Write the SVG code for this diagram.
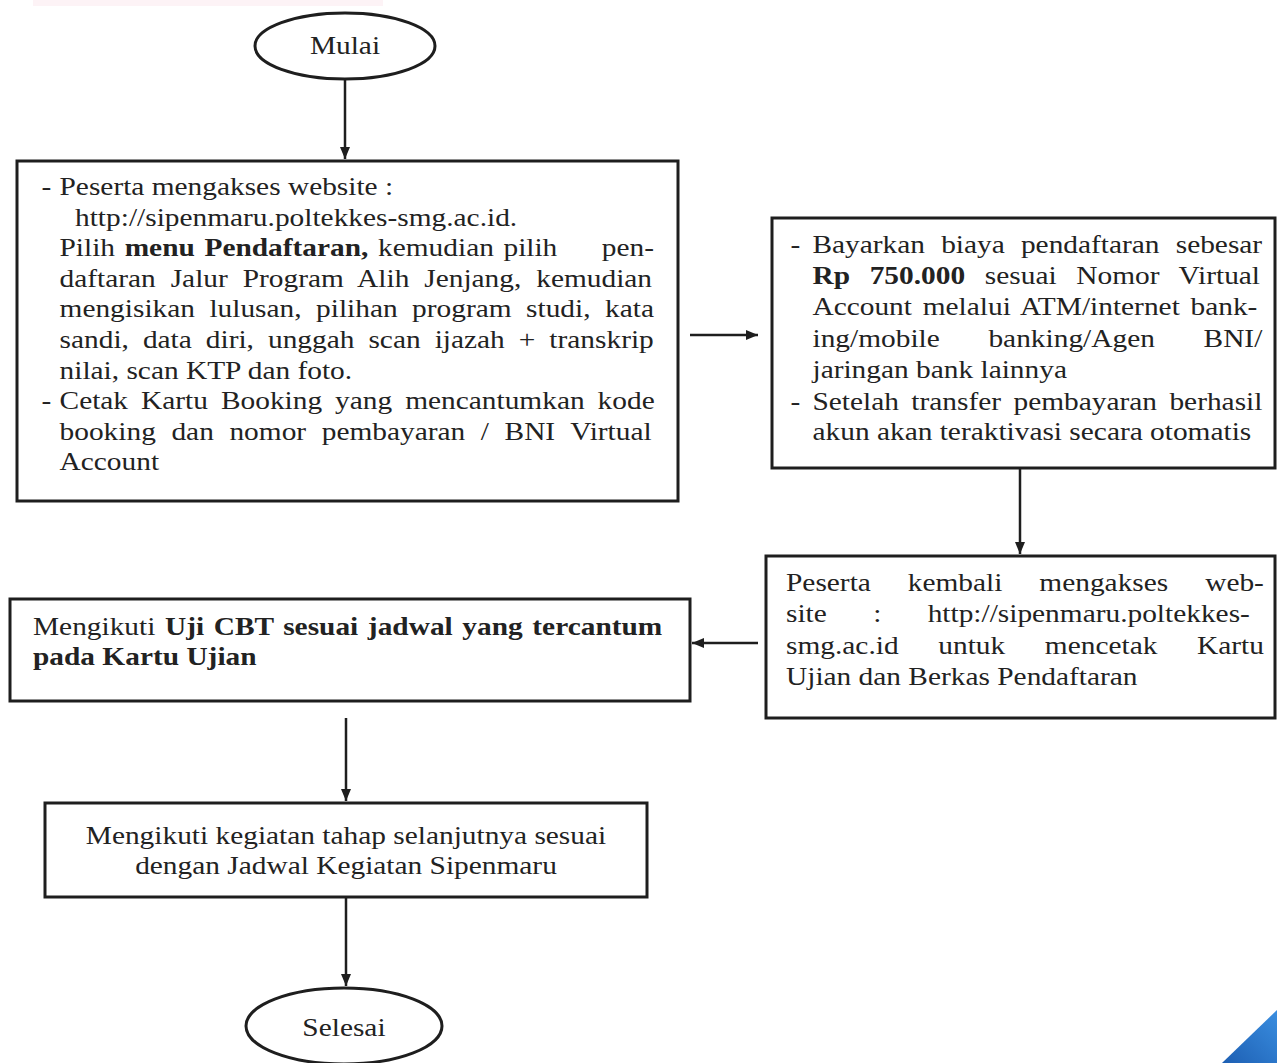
<svg xmlns="http://www.w3.org/2000/svg" width="1277" height="1063" viewBox="0 0 1277 1063">
<style>
.t{font-family:"Liberation Serif","Times New Roman",serif;font-size:26px;fill:#222222}
.b{font-weight:bold}
.box{fill:#ffffff;stroke:#1e1e1e;stroke-width:3}
.conn{stroke:#1e1e1e;stroke-width:2.5;fill:none}
</style>
<defs>
<marker id="ah" markerUnits="userSpaceOnUse" markerWidth="13" markerHeight="11" refX="12" refY="5" orient="auto">
<path d="M0,0 L12,5 L0,10 Z" fill="#1e1e1e"/>
</marker>
<linearGradient id="blue" x1="0" y1="1" x2="1" y2="0">
<stop offset="0" stop-color="#1d5fb3"/>
<stop offset="1" stop-color="#3a8ee0"/>
</linearGradient>
</defs>
<rect width="1277" height="1063" fill="#ffffff"/>
<rect x="33" y="0" width="350" height="6" fill="#fdf3f6"/>
<polygon points="1222,1063 1277,1010 1277,1063" fill="url(#blue)"/>

<g id="connectors">
<line class="conn" x1="345" y1="79" x2="345" y2="159" marker-end="url(#ah)"/>
<line class="conn" x1="690" y1="335" x2="758" y2="335" marker-end="url(#ah)"/>
<line class="conn" x1="1020" y1="469" x2="1020" y2="554" marker-end="url(#ah)"/>
<line class="conn" x1="758" y1="643" x2="692" y2="643" marker-end="url(#ah)"/>
<line class="conn" x1="346" y1="718" x2="346" y2="801" marker-end="url(#ah)"/>
<line class="conn" x1="346" y1="898" x2="346" y2="986" marker-end="url(#ah)"/>
</g>

<g id="mulai">
<ellipse cx="345" cy="46" rx="90" ry="33" class="box"/>
<g transform="scale(1.13,1)"><text class="t" x="305.3" y="54" text-anchor="middle">Mulai</text></g>
</g>

<g id="daftar">
<rect x="17" y="161" width="661" height="340" class="box"/>
<g transform="scale(1.13,1)">
<text class="t" x="36.7" y="195">-</text>
<text class="t" x="52.7" y="195">Peserta mengakses website :</text>
<text class="t" x="66.4" y="225.6">http://sipenmaru.poltekkes-smg.ac.id.</text>
<text class="t" x="52.7" y="256.2" word-spacing="2">Pilih <tspan class="b">menu Pendaftaran,</tspan> kemudian pilih</text>
<text class="t" x="578.8" y="256.2" text-anchor="end">pen-</text>
<text class="t" x="52.7" y="286.8" word-spacing="6.7">daftaran Jalur Program Alih Jenjang, kemudian</text>
<text class="t" x="52.7" y="317.4" word-spacing="6.3">mengisikan lulusan, pilihan program studi, kata</text>
<text class="t" x="52.7" y="348" word-spacing="5.9">sandi, data diri, unggah scan ijazah + transkrip</text>
<text class="t" x="52.7" y="378.6">nilai, scan KTP dan foto.</text>
<text class="t" x="36.7" y="409.2">-</text>
<text class="t" x="52.7" y="409.2" word-spacing="5">Cetak Kartu Booking yang mencantumkan kode</text>
<text class="t" x="52.7" y="439.8" word-spacing="7.3">booking dan nomor pembayaran / BNI Virtual</text>
<text class="t" x="52.7" y="470.4">Account</text>
</g>
</g>

<g id="bayar">
<rect x="772" y="218" width="503" height="250" class="box"/>
<g transform="scale(1.13,1)">
<text class="t" x="699.5" y="253">-</text>
<text class="t" x="719" y="253" word-spacing="7.8">Bayarkan biaya pendaftaran sebesar</text>
<text class="t" x="719" y="284" word-spacing="10.9"><tspan class="b">Rp 750.000</tspan> sesuai Nomor Virtual</text>
<text class="t" x="719" y="315.5" word-spacing="3">Account melalui ATM/internet bank-</text>
<text class="t" x="719" y="347" word-spacing="36.6">ing/mobile banking/Agen BNI/</text>
<text class="t" x="719" y="378">jaringan bank lainnya</text>
<text class="t" x="699.5" y="410">-</text>
<text class="t" x="719" y="410" word-spacing="4.5">Setelah transfer pembayaran berhasil</text>
<text class="t" x="719" y="440">akun akan teraktivasi secara otomatis</text>
</g>
</g>

<g id="cetak">
<rect x="766" y="556" width="509" height="162" class="box"/>
<g transform="scale(1.13,1)">
<text class="t" x="695.6" y="591" word-spacing="26.2">Peserta kembali mengakses web-</text>
<text class="t" x="695.6" y="622.5" word-spacing="34.5">site : http://sipenmaru.poltekkes-</text>
<text class="t" x="695.6" y="654" word-spacing="28.6">smg.ac.id untuk mencetak Kartu</text>
<text class="t" x="695.6" y="685.5">Ujian dan Berkas Pendaftaran</text>
</g>
</g>

<g id="ujian">
<rect x="10" y="599" width="680" height="102" class="box"/>
<g transform="scale(1.13,1)">
<text class="t" x="29.2" y="635" word-spacing="2">Mengikuti <tspan class="b">Uji CBT sesuai jadwal yang tercantum</tspan></text>
<text class="t b" x="29.2" y="665">pada Kartu Ujian</text>
</g>
</g>

<g id="lanjut">
<rect x="45" y="803" width="602" height="94" class="box"/>
<g transform="scale(1.13,1)">
<text class="t" x="306.2" y="844" text-anchor="middle">Mengikuti kegiatan tahap selanjutnya sesuai</text>
<text class="t" x="306.2" y="874" text-anchor="middle">dengan Jadwal Kegiatan Sipenmaru</text>
</g>
</g>

<g id="selesai">
<ellipse cx="344" cy="1026" rx="98" ry="38" class="box"/>
<g transform="scale(1.13,1)"><text class="t" x="304.4" y="1036" text-anchor="middle">Selesai</text></g>
</g>
</svg>
